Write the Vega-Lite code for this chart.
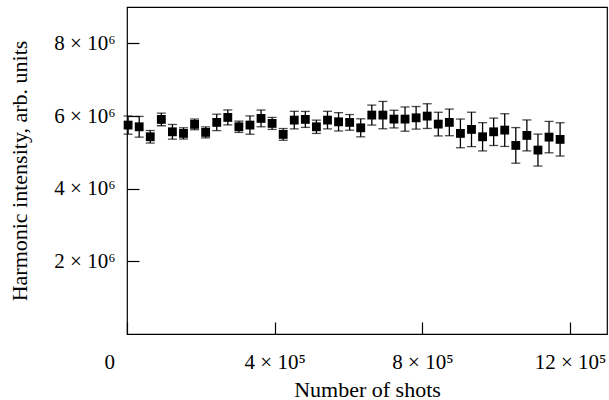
{
  "$schema": "https://vega.github.io/schema/vega-lite/v6.json",
  "autosize": "none",
  "width": 480,
  "height": 327,
  "padding": {"left": 127, "top": 7, "right": 2, "bottom": 66},
  "background": "white",
  "config": {
    "view": {"stroke": "black", "strokeWidth": 1.2},
    "font": "Liberation Serif",
    "axis": {
      "labelFont": "Liberation Serif",
      "titleFont": "Liberation Serif",
      "labelColor": "black",
      "titleColor": "black",
      "labelFontSize": 21,
      "titleFontSize": 22,
      "titleFontWeight": "normal",
      "domain": false,
      "grid": false,
      "tickColor": "black",
      "tickWidth": 1.2,
      "tickSize": -12
    }
  },
  "data": {
    "values": [
      {"shots": 3000, "intensity": 5750000, "err": 250000},
      {"shots": 33000, "intensity": 5703000, "err": 285000},
      {"shots": 63000, "intensity": 5428000, "err": 173000},
      {"shots": 93000, "intensity": 5906000, "err": 175000},
      {"shots": 123000, "intensity": 5565000, "err": 202000},
      {"shots": 153000, "intensity": 5521000, "err": 155000},
      {"shots": 183000, "intensity": 5769000, "err": 147000},
      {"shots": 213000, "intensity": 5549000, "err": 151000},
      {"shots": 243000, "intensity": 5824000, "err": 226000},
      {"shots": 273000, "intensity": 5961000, "err": 206000},
      {"shots": 303000, "intensity": 5703000, "err": 155000},
      {"shots": 333000, "intensity": 5750000, "err": 252000},
      {"shots": 363000, "intensity": 5934000, "err": 230000},
      {"shots": 393000, "intensity": 5796000, "err": 165000},
      {"shots": 423000, "intensity": 5494000, "err": 161000},
      {"shots": 453000, "intensity": 5887000, "err": 242000},
      {"shots": 483000, "intensity": 5906000, "err": 220000},
      {"shots": 513000, "intensity": 5703000, "err": 183000},
      {"shots": 543000, "intensity": 5887000, "err": 242000},
      {"shots": 573000, "intensity": 5840000, "err": 252000},
      {"shots": 603000, "intensity": 5824000, "err": 216000},
      {"shots": 633000, "intensity": 5675000, "err": 248000},
      {"shots": 663000, "intensity": 6025000, "err": 275000},
      {"shots": 693000, "intensity": 6025000, "err": 376000},
      {"shots": 723000, "intensity": 5915000, "err": 243000},
      {"shots": 753000, "intensity": 5915000, "err": 334000},
      {"shots": 783000, "intensity": 5950000, "err": 311000},
      {"shots": 813000, "intensity": 5997000, "err": 340000},
      {"shots": 843000, "intensity": 5777000, "err": 326000},
      {"shots": 873000, "intensity": 5824000, "err": 367000},
      {"shots": 903000, "intensity": 5521000, "err": 395000},
      {"shots": 933000, "intensity": 5631000, "err": 473000},
      {"shots": 963000, "intensity": 5428000, "err": 389000},
      {"shots": 993000, "intensity": 5565000, "err": 377000},
      {"shots": 1023000, "intensity": 5612000, "err": 450000},
      {"shots": 1053000, "intensity": 5191000, "err": 490000},
      {"shots": 1083000, "intensity": 5466000, "err": 426000},
      {"shots": 1113000, "intensity": 5062000, "err": 440000},
      {"shots": 1143000, "intensity": 5419000, "err": 432000},
      {"shots": 1173000, "intensity": 5356000, "err": 458000}
    ]
  },
  "encoding": {
    "x": {
      "field": "shots",
      "type": "quantitative",
      "scale": {"domain": [0, 1300000], "nice": false, "zero": false},
      "axis": {
        "title": "Number of shots",
        "values": [0, 400000, 800000, 1200000],
        "labelExpr": "datum.value == 0 ? '0' : (datum.value / 100000) + ' × 10⁵'",
        "labelOffset": {"condition": {"test": "datum.value == 0", "value": -23}, "value": 0},
        "labelPadding": 29,
        "labelBaseline": "top",
        "titlePadding": 7
      }
    },
    "y": {
      "field": "intensity",
      "type": "quantitative",
      "scale": {"domain": [0, 9000000], "nice": false},
      "axis": {
        "title": "Harmonic intensity, arb. units",
        "values": [2000000, 4000000, 6000000, 8000000],
        "labelExpr": "(datum.value / 1000000) + ' × 10⁶'",
        "labelPadding": 24,
        "titlePadding": 22
      }
    }
  },
  "layer": [
    {
      "mark": {
        "type": "errorbar",
        "color": "black",
        "thickness": 1.3,
        "ticks": {"size": 9, "thickness": 1.3, "color": "black"}
      },
      "encoding": {
        "yError": {"field": "err"}
      }
    },
    {
      "mark": {"type": "point", "shape": "square", "filled": true, "color": "black", "opacity": 1, "size": 78}
    }
  ]
}
